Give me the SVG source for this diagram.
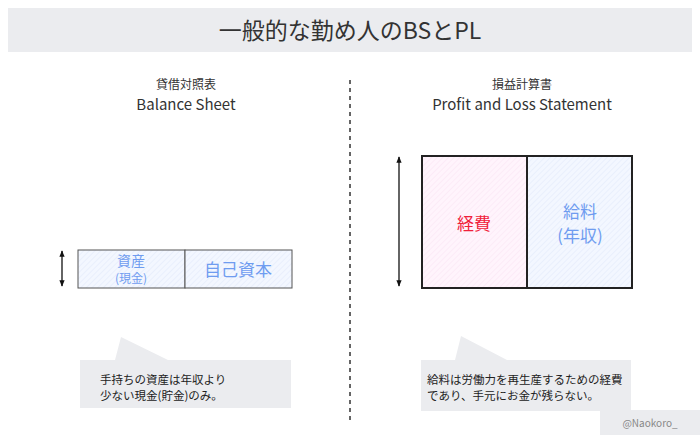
<svg xmlns="http://www.w3.org/2000/svg" width="700" height="435" viewBox="0 0 700 435">
<defs>
<pattern id="hb" width="4" height="4" patternUnits="userSpaceOnUse" patternTransform="rotate(45)"><rect width="4" height="4" fill="#f3f7ff"/><line x1="0" y1="0" x2="0" y2="4" stroke="#e3ebfb" stroke-width="1.2"/></pattern>
<pattern id="hp" width="4" height="4" patternUnits="userSpaceOnUse" patternTransform="rotate(45)"><rect width="4" height="4" fill="#fff4fc"/><line x1="0" y1="0" x2="0" y2="4" stroke="#fbe6f5" stroke-width="1.2"/></pattern>
<marker id="ah" viewBox="0 0 10 10" refX="9" refY="5" markerWidth="5" markerHeight="5" orient="auto-start-reverse"><path d="M0,1 L10,5 L0,9 z" fill="#111"/></marker>
</defs>
<style>
text{font-family:"Noto Sans CJK JP","Liberation Serif",serif}
.h{fill:#333;text-anchor:middle}
.blue{fill:#6f9cf0;text-anchor:middle}
.note{font-size:11.5px;fill:#222}
.gray{fill:#ebecef}
</style>
<rect width="700" height="435" fill="#fff"/>
<g id="title"><rect x="8" y="8" width="684" height="44" class="gray"/><text x="350" y="39" font-size="23" text-anchor="middle" fill="#333">一般的な勤め人のBSとPL</text></g>
<g id="bs-head"><text x="186" y="89" class="h" font-size="12">貸借対照表</text><text x="186" y="110" class="h" font-size="15" font-family="Liberation Sans">Balance Sheet</text></g>
<g id="pl-head"><text x="522" y="89" class="h" font-size="12">損益計算書</text><text x="522" y="110" class="h" font-size="15" font-family="Liberation Sans">Profit and Loss Statement</text></g>
<g id="connectors">
<line x1="350" y1="80" x2="350" y2="420" stroke="#333" stroke-width="1.5" stroke-dasharray="4,4"/>
<line x1="62" y1="251" x2="62" y2="286" stroke="#111" stroke-width="1.3" marker-start="url(#ah)" marker-end="url(#ah)"/>
<line x1="399" y1="157" x2="399" y2="286" stroke="#111" stroke-width="1.3" marker-start="url(#ah)" marker-end="url(#ah)"/>
</g>
<g id="asset"><rect x="78" y="250" width="107" height="38" fill="url(#hb)" stroke="#555"/><text x="131" y="266" class="blue" font-size="14">資産</text><text x="131" y="283" class="blue" font-size="12">(現金)</text></g>
<g id="equity"><rect x="185" y="250" width="107" height="38" fill="url(#hb)" stroke="#555"/><text x="238" y="276" class="blue" font-size="17">自己資本</text></g>
<g id="expense"><rect x="422" y="156" width="105" height="132" fill="url(#hp)" stroke="#222" stroke-width="2"/><text x="474" y="230" font-size="17" fill="#f0203a" text-anchor="middle">経費</text></g>
<g id="salary"><rect x="527" y="156" width="105" height="132" fill="url(#hb)" stroke="#222" stroke-width="2"/><text x="580" y="218" class="blue" font-size="17">給料</text><text x="580" y="242" class="blue" font-size="17">(年収)</text></g>
<g id="note-bs"><path d="M80,360 H115 L121,337 L168,360 H291 V408 H80 Z" class="gray"/><text x="100" y="384" class="note">手持ちの資産は年収より</text><text x="100" y="400" class="note">少ない現金(貯金)のみ。</text></g>
<g id="note-pl"><path d="M421,360 H455 L461,336 L507,360 H631 V411 H421 Z" class="gray"/><text x="427" y="384" class="note">給料は労働力を再生産するための経費</text><text x="427" y="400" class="note">であり、手元にお金が残らない。</text></g>
<g id="credit"><rect x="600" y="410" width="100" height="25" class="gray"/><text x="650" y="427" font-size="10" fill="#888" text-anchor="middle" font-family="Liberation Serif">@Naokoro_</text></g>
</svg>
